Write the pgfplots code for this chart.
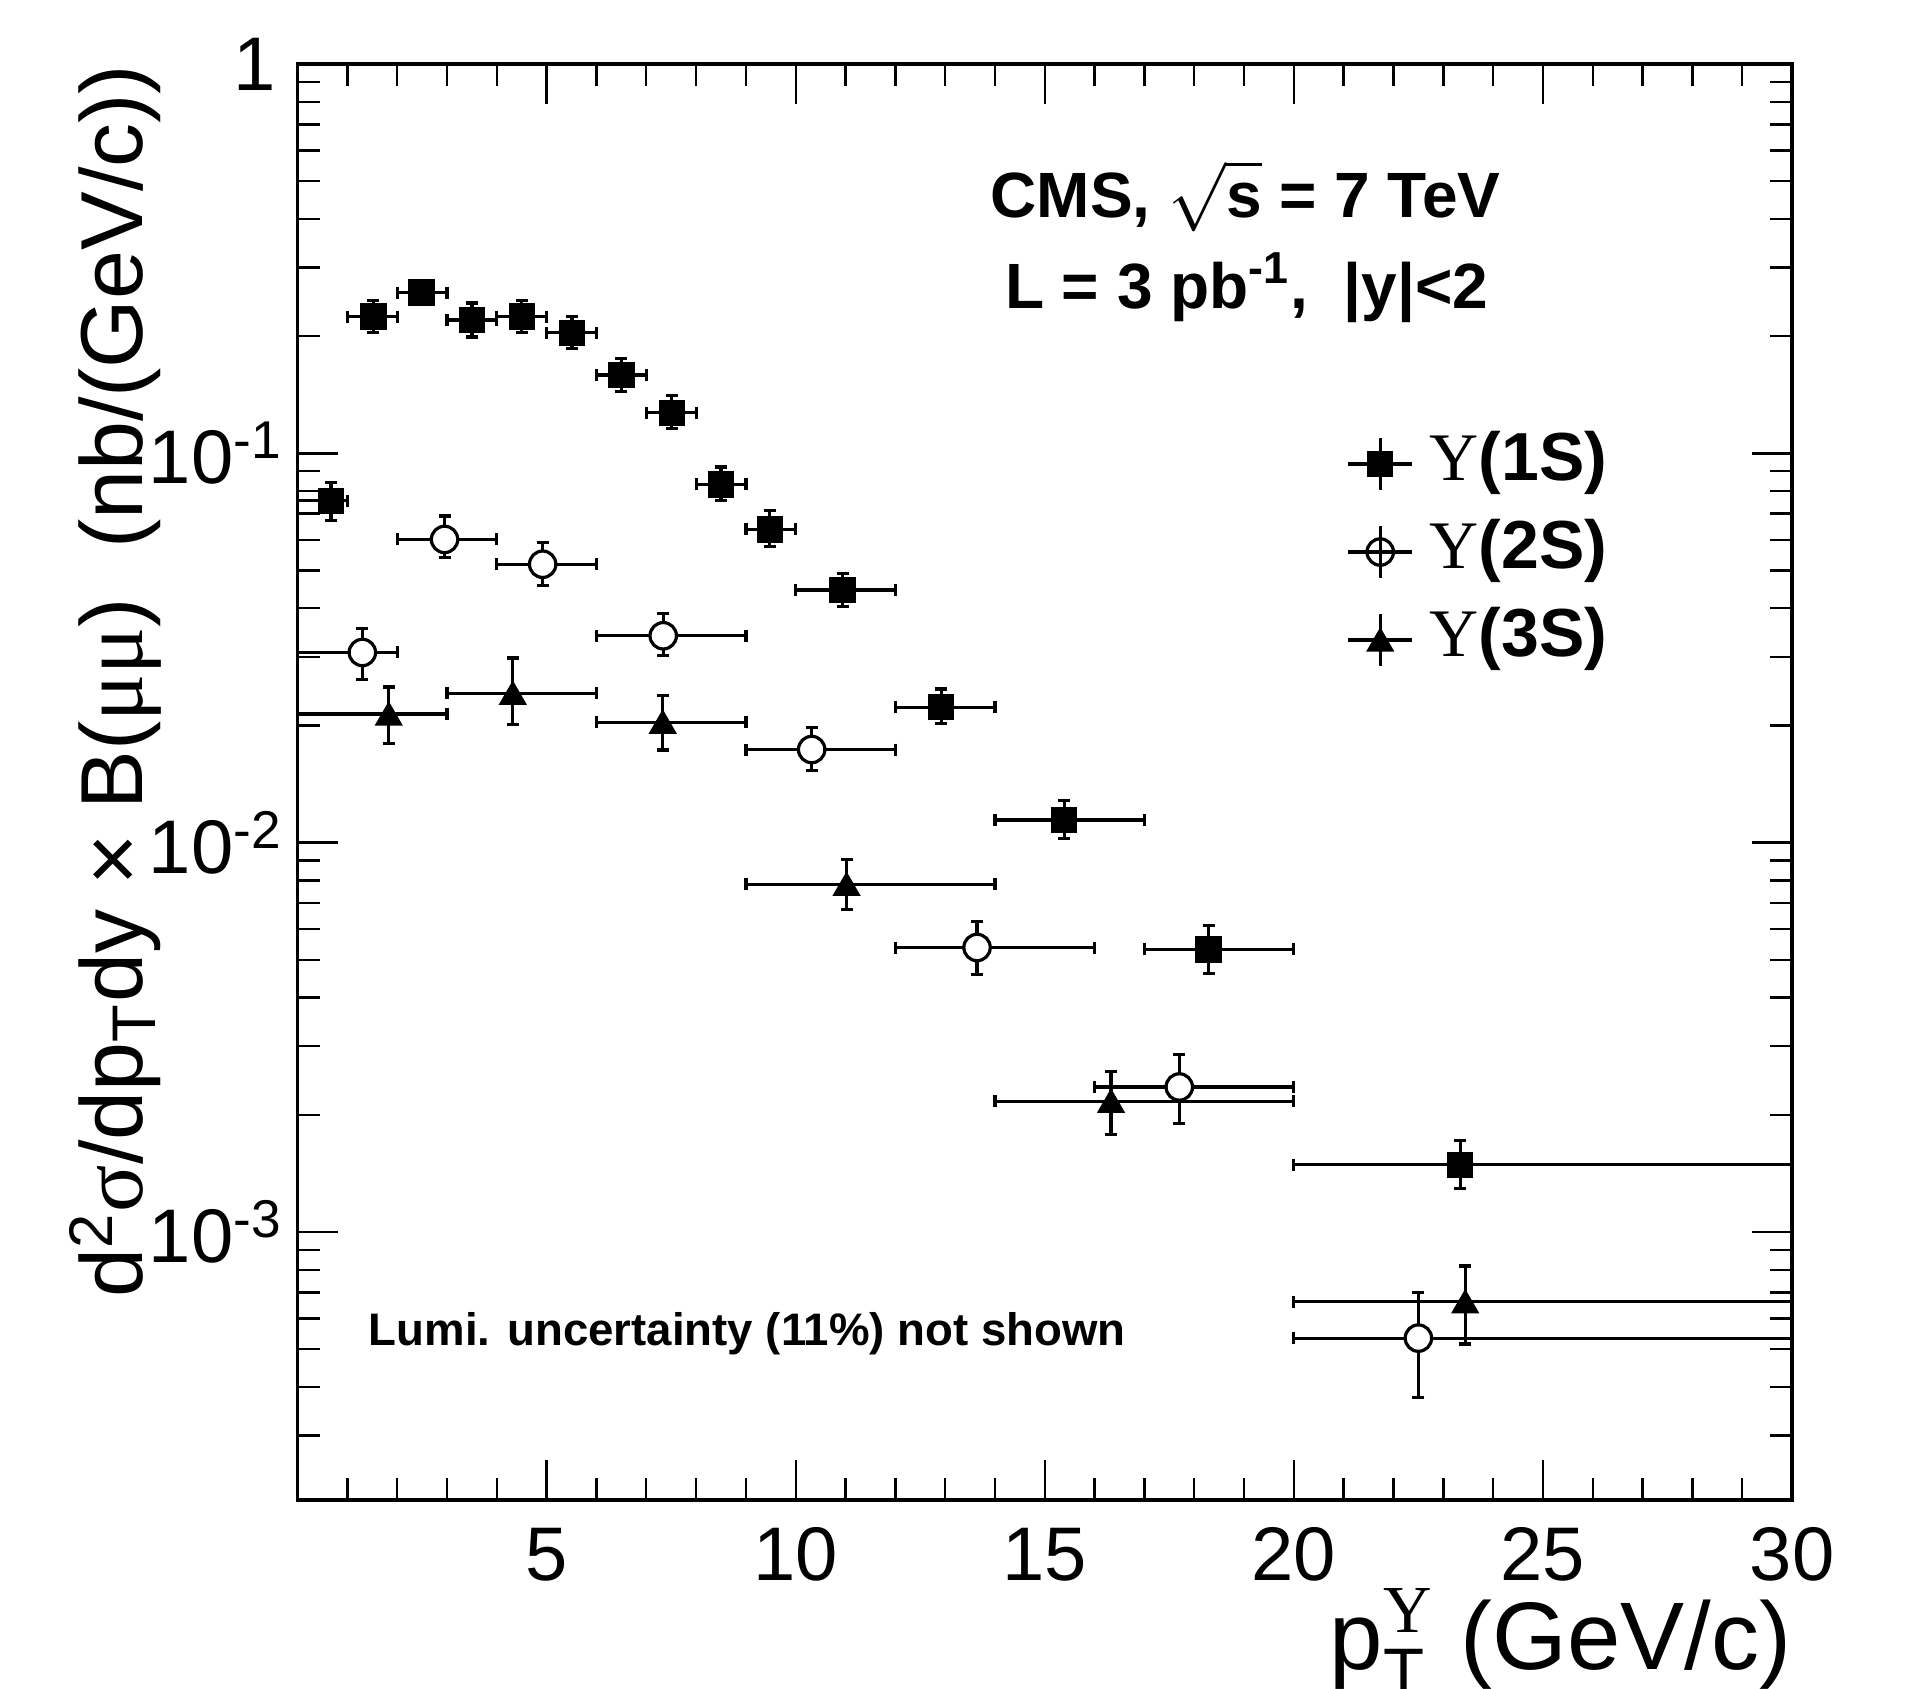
\documentclass[border=0pt]{standalone}
\usepackage{amsmath}
\usepackage{fontspec}
\setmainfont{Liberation Sans}
\newfontfamily\upsfont{Liberation Serif}
\usepackage{pgfplots}
\pgfplotsset{compat=1.18}
\usepackage{pgfplotstable}

\pgfplotstableread{
x y exm exp eym eyp
0.67 0.0755 0.67 0.33 0.0082 0.0086
1.52 0.2244 0.52 0.48 0.0202 0.0222
2.49 0.2586 0.49 0.51 0.0147 0.0155
3.50 0.2200 0.50 0.50 0.0211 0.0233
4.50 0.2244 0.50 0.50 0.0202 0.0222
5.51 0.2040 0.51 0.49 0.0184 0.0202
6.50 0.1589 0.50 0.50 0.0149 0.0165
7.51 0.1271 0.51 0.49 0.0114 0.0135
8.50 0.0832 0.50 0.50 0.0077 0.0090
9.48 0.0638 0.48 0.52 0.0062 0.0075
10.94 0.04455 0.94 1.06 0.0042 0.0046
12.92 0.02228 0.92 1.08 0.00205 0.00254
15.39 0.01143 1.39 1.61 0.00118 0.00138
18.29 0.00532 1.29 1.71 0.00070 0.00081
23.34 0.001489 3.34 6.66 0.000197 0.000228
}\tabA

\pgfplotstableread{
x y exm exp eym eyp
1.30 0.0308 1.30 0.70 0.0046 0.0047
2.95 0.0601 0.95 1.05 0.0061 0.0089
4.92 0.0519 0.92 1.08 0.0061 0.0070
7.34 0.0340 1.34 1.66 0.0038 0.0047
10.32 0.01735 1.32 1.68 0.0020 0.0024
13.64 0.00538 1.64 2.36 0.0008 0.0009
17.70 0.002358 1.70 2.30 0.00046 0.00050
22.50 0.000534 2.50 7.50 0.000158 0.000164
}\tabB

\pgfplotstableread{
x y exm exp eym eyp
1.83 0.0214 1.83 1.17 0.0034 0.0037
4.32 0.0242 1.32 1.68 0.0041 0.0056
7.33 0.0204 1.33 1.67 0.0031 0.0035
11.02 0.00782 2.02 2.98 0.00109 0.00124
16.33 0.002167 2.33 3.67 0.00039 0.00042
23.44 0.000662 3.44 6.56 0.000146 0.000156
}\tabC

\pgfplotsset{
  crossleg/.style={legend image code/.code={
    \draw[##1] plot coordinates {(8pt,0pt)};
    \draw[black,line width=0.8pt] (0pt,0pt) -- (16pt,0pt);
    \draw[black,line width=0.8pt] (8pt,-6.5pt) -- (8pt,6.5pt);
  }},
  errs/.style={
    /pgfplots/error bars/x dir=both, /pgfplots/error bars/x explicit,
    /pgfplots/error bars/y dir=both, /pgfplots/error bars/y explicit,
    /pgfplots/error bars/error bar style={black, line width=0.8pt},
    /pgfplots/error bars/error mark options={rotate=90, black, mark size=1.5pt, line width=0.8pt}},
}

\begin{document}
\begin{tikzpicture}
\path[use as bounding box] (-74.4pt,-47.25pt) rectangle (404.85pt,375pt);
\begin{axis}[
  at={(0,0)}, anchor=south west,
  scale only axis, width=373.6pt, height=359pt,
  xmin=0, xmax=30, ymode=log, ymin=2.05e-4, ymax=1,
  xtick={5,10,15,20,25,30}, xticklabels={5,10,15,20,25,30},
  minor xtick={1,2,3,4,6,7,8,9,11,12,13,14,16,17,18,19,21,22,23,24,26,27,28,29},
  ytick={1e-3,1e-2,1e-1,1},
  yticklabels={10\textsuperscript{-3},10\textsuperscript{-2},10\textsuperscript{-1},\hspace*{0pt}1\hspace*{1.75pt}},
  minor ytick={2e-4,3e-4,4e-4,5e-4,6e-4,7e-4,8e-4,9e-4,
               2e-3,3e-3,4e-3,5e-3,6e-3,7e-3,8e-3,9e-3,
               2e-2,3e-2,4e-2,5e-2,6e-2,7e-2,8e-2,9e-2,
               2e-1,3e-1,4e-1,5e-1,6e-1,7e-1,8e-1,9e-1},
  tick align=inside, xtick pos=both, ytick pos=both,
  major tick length=10pt, minor tick length=5.5pt,
  every tick/.style={black, line width=0.6pt},
  axis line style={line width=0.8pt},
  tick label style={font=\fontsize{19}{19}\selectfont},
  xticklabel style={inner sep=0pt, yshift=-6.75pt},
  yticklabel style={inner sep=0pt, xshift=-3.5pt},
  every axis x label/.style={at={(axis description cs:1,-0.1177)}, anchor=base east, inner sep=0pt, font=\fontsize{24}{24}\selectfont},
  every axis y label/.style={at={(axis description cs:-0.104,1)}, rotate=90, anchor=base east, inner sep=0pt, font=\fontsize{22}{22}\selectfont},
  xlabel={p$_{\text{T}}^{\text{\upsfont Υ}}$ (GeV/c)},
  ylabel={d\textsuperscript{2}{\upsfont σ}/dp\textsubscript{T}dy × B({\upsfont μμ})\ \ (nb/(GeV/c))},
  legend style={draw=none, fill=none, at={(0.702,0.7437)}, anchor=north west,
    inner sep=0pt, outer sep=0pt, row sep=6pt, column sep=4pt,
    font=\fontsize{17}{17}\selectfont\bfseries,
    nodes={inner sep=0pt, text height=12pt, text depth=4pt}},
  legend cell align=left,
]
\addplot[only marks, mark=square*, mark size=3pt, mark options={fill=black, draw=black, line width=0.6pt}, errs, crossleg]
  table[x=x, y=y, x error minus=exm, x error plus=exp, y error minus=eym, y error plus=eyp] {\tabA};
\addlegendentry{{\upsfont\mdseries Υ}(1S)}
\addplot[only marks, mark=*, mark size=3.3pt, mark options={fill=white, draw=black, line width=0.8pt}, errs, crossleg]
  table[x=x, y=y, x error minus=exm, x error plus=exp, y error minus=eym, y error plus=eyp] {\tabB};
\addlegendentry{{\upsfont\mdseries Υ}(2S)}
\addplot[only marks, mark=triangle*, mark size=3.5pt, mark options={fill=black, draw=black, line width=0.6pt, yshift=-0.875pt}, errs, crossleg]
  table[x=x, y=y, x error minus=exm, x error plus=exp, y error minus=eym, y error plus=eyp] {\tabC};
\addlegendentry{{\upsfont\mdseries Υ}(3S)}

\node[font=\fontsize{16}{16}\selectfont\bfseries, anchor=base, inner sep=0pt] at (rel axis cs:0.6344,0.8932) {CMS, $\sqrt{\text{s}}$ = 7 TeV};
\node[font=\fontsize{16}{16}\selectfont\bfseries, anchor=base, inner sep=0pt] at (rel axis cs:0.6351,0.8299) {L = 3 pb\textsuperscript{-1},\ \ |y|<2};
\node[font=\fontsize{11.4}{11.4}\selectfont\bfseries, anchor=base west, inner sep=0pt] at (rel axis cs:0.0472,0.1079) {Lumi. uncertainty (11\%) not shown};
\end{axis}
\end{tikzpicture}
\end{document}
